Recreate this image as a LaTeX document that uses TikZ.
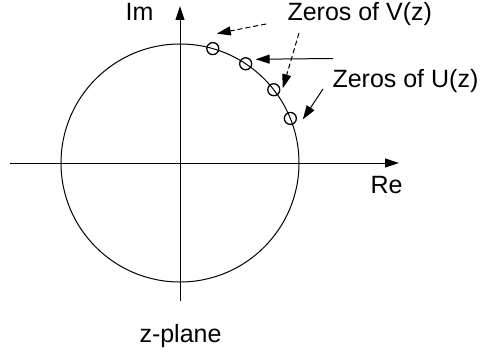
\documentclass[tikz,border=0pt]{standalone}
\usepackage{fontspec}
\setmainfont{Liberation Sans}
\usetikzlibrary{arrows.meta, positioning}

\tikzset{
  zero/.style={draw, circle, line width=1.3pt, minimum size=12pt, inner sep=0pt},
  label/.style={font=\fontsize{25}{30}\selectfont, inner sep=0pt},
  tip/.style={-{Triangle[length=14pt, width=9pt]}},
  dashline/.style={dash pattern=on 5pt off 3pt},
}

\begin{document}
\begin{tikzpicture}[x=1pt, y=1pt, line width=1pt]
  \useasboundingbox (-180,-193) rectangle (301,163);
  % unit circle and axes
  \draw (0,0) circle (119);
  \draw[tip] (-170,0) -- (219,0);
  \draw[tip] (0,-138) -- (0,157);
  % zeros on the circle
  \foreach \a [count=\i] in {74,56.5,38,22}
    \node[zero] (z\i) at (\a:119) {};
  % labels
  \node[label, anchor=base east] (im) at (-26,142) {Im};
  \node[label, anchor=base west] (re) at (190,-30) {Re};
  \node[label, anchor=base west] (zv) at (107,142) {Zeros of V(z)};
  \node[label, anchor=base west] (zu) at (152,75) {Zeros of U(z)};
  \node[label, anchor=base west] (zp) at (-41,-179) {z-plane};
  % pointers
  \coordinate (v1) at (86,139);
  \coordinate (v2) at (119,130);
  \coordinate (u1) at (153,104.5);
  \coordinate (u2) at (143,74);
  \draw[tip, dashline] (v1) -- ([shift={(4,15)}]z1.center);
  \draw[tip, dashline] (v2) -- ([shift={(9,1.5)}]z3.center);
  \draw[tip] (u1) -- ([shift={(10,4.5)}]z2.center);
  \draw[tip] (u2) -- ([shift={(12.5,-1)}]z4.center);
\end{tikzpicture}
\end{document}
